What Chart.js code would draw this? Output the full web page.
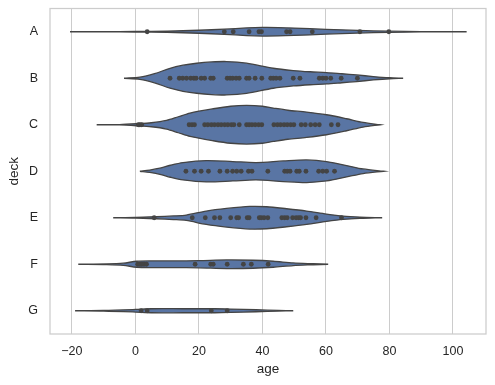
<!DOCTYPE html>
<html>
<head>
<meta charset="utf-8">
<script src="https://cdn.jsdelivr.net/npm/chart.js@4/dist/chart.umd.min.js"></script>
<style>
  html, body { margin: 0; padding: 0; background: #fff; }
  #wrap { width: 495px; height: 385px; }
</style>
</head>
<body>
<div id="wrap"><canvas id="chart"></canvas></div>
<script>
const decks = ["A", "B", "C", "D", "E", "F", "G"];
const xTicks = [-20, 0, 20, 40, 60, 80, 100];

// violin outlines: ages and half widths (in category units)
const ageA = [-20.6, -10, 0, 10, 20, 28, 35, 40, 45, 50, 60, 70, 80, 90, 104.3];
const widthA = [0, 0.002, 0.006, 0.013, 0.032, 0.056, 0.082, 0.092, 0.09, 0.08, 0.052, 0.028, 0.013, 0.004, 0];
const ageB = [-3.6, 1.4, 6, 10.9, 15, 19.3, 24, 28.7, 35, 43.4, 49.7, 55, 60.2, 65, 69.7, 74.9, 80, 84.3];
const widthB = [0, 0.022, 0.097, 0.215, 0.28, 0.323, 0.35, 0.359, 0.323, 0.215, 0.166, 0.14, 0.123, 0.097, 0.071, 0.037, 0.011, 0];
const ageC = [-12.2, -5, 0.5, 5, 9.8, 13.5, 17.2, 24.5, 30, 35, 40, 43.4, 48, 53.9, 60.2, 66.5, 71.7, 77];
const widthC = [0, 0.004, 0.022, 0.043, 0.092, 0.172, 0.252, 0.344, 0.398, 0.415, 0.398, 0.359, 0.312, 0.273, 0.215, 0.129, 0.049, 0];
const ageD = [1.4, 4.5, 7.7, 11, 15, 22.3, 30.7, 38, 46.6, 53.9, 60.2, 66.5, 71.7, 78.1];
const widthD = [0, 0.026, 0.065, 0.129, 0.187, 0.23, 0.209, 0.187, 0.222, 0.243, 0.209, 0.123, 0.049, 0];
const ageE = [-7, 0, 6.6, 12, 16, 22.3, 28.7, 36, 41.3, 47.6, 53.9, 60.2, 65.4, 70.7, 77.7];
const widthE = [0, 0.006, 0.022, 0.039, 0.058, 0.144, 0.2, 0.243, 0.237, 0.194, 0.144, 0.08, 0.037, 0.015, 0];
const ageF = [-18, -9, -3.8, 0.4, 6, 12, 20, 28.7, 37.1, 43.4, 49.7, 56, 60.7];
const widthF = [0, 0.006, 0.022, 0.065, 0.071, 0.071, 0.077, 0.092, 0.086, 0.065, 0.028, 0.011, 0];
const ageG = [-19, -10, 0, 5, 15, 25, 30, 38, 45, 49.7];
const widthG = [0, 0.006, 0.028, 0.043, 0.043, 0.043, 0.037, 0.022, 0.006, 0];

// individual observations
const pointsA = [3.7, 28, 30.8, 35.8, 38.9, 39.7, 47.6, 48.7, 55.7, 70.7, 79.8];
const pointsB = [10.9, 13.8, 14.9, 16.1, 17.4, 18.4, 19.1, 20.7, 21.8, 23.7, 24.5, 28.9, 29.8, 30.6, 31.7, 32.7,
  35, 35.8, 37.7, 39.8, 42.6, 43.4, 44.3, 45.5, 49.7, 51.8, 57.9, 59, 60, 61.5, 64.8, 69.9];
const pointsC = [0.9, 1.4, 2, 16.9, 17.8, 18.6, 21.8, 22.8, 23.9, 24.9, 26, 27, 28.1, 29.1, 30.2, 31, 32.7,
  35, 35.8, 36.7, 37.7, 38.8, 39.8, 43.6, 44.7, 45.7, 46.8, 47.8, 48.9, 49.9, 52.2, 53.5, 55.2, 56.6, 57.9, 61.7, 63.8];
const pointsD = [15.9, 18.6, 20.7, 23, 26.6, 28.9, 30.6, 31.9, 33.3, 35.6, 36.7, 41.7, 47, 47.8, 48.7, 50.8,
  51.6, 53.7, 57.7, 59, 60.2, 62.7];
const pointsE = [5.9, 17.9, 22, 24.9, 26.6, 30, 31.9, 32.5, 35.2, 35.8, 39, 39.6, 40.5, 41.7, 46.1, 47, 47.8,
  49.5, 50.6, 51.4, 52, 53.7, 56.9, 64.9];
const pointsF = [0.7, 1.4, 2, 2.7, 3.5, 18.8, 23.7, 24.5, 28.9, 34, 36.5, 41.8];
const pointsG = [1.8, 3.7, 23.9, 28.9];

const ages = [ageA, ageB, ageC, ageD, ageE, ageF, ageG];
const widths = [widthA, widthB, widthC, widthD, widthE, widthF, widthG];
const points = [pointsA, pointsB, pointsC, pointsD, pointsE, pointsF, pointsG];

const textColor = "#262626";
const gridColor = "#cccccc";
const fontFamily = "'Liberation Sans', Arial, sans-serif";

const datasets = [];
decks.forEach((d, i) => {
    const upper = ages[i].map((a, k) => ({ x: a, y: i - widths[i][k] }));
    const lower = ages[i].map((a, k) => ({ x: a, y: i + widths[i][k] })).reverse();
    datasets.push({
        type: "scatter",
        label: "violin " + d,
        data: upper.concat(lower),
        showLine: true,
        fill: "shape",
        tension: 0.3,
        backgroundColor: "#5975a4",
        borderColor: "#444444",
        borderWidth: 1.3,
        pointRadius: 0,
        order: 2
    });
    datasets.push({
        type: "scatter",
        label: "points " + d,
        data: points[i].map(v => ({ x: v, y: i })),
        pointRadius: 2.4,
        pointBackgroundColor: "#444444",
        pointBorderWidth: 0,
        order: 1
    });
});

const framePlugin = {
    id: "frame",
    beforeDatasetsDraw(chart) {
        const { ctx, chartArea: a } = chart;
        ctx.save();
        ctx.strokeStyle = gridColor;
        ctx.lineWidth = 1.25;
        ctx.strokeRect(a.left, a.top, a.right - a.left, a.bottom - a.top);
        ctx.restore();
    }
};

new Chart(document.getElementById("chart"), {
    type: "scatter",
    data: { datasets },
    options: {
        responsive: true,
        maintainAspectRatio: false,
        animation: false,
        layout: { padding: { top: 8.5, right: 9, left: 0, bottom: 0 } },
        plugins: { legend: { display: false }, tooltip: { enabled: false } },
        scales: {
            x: {
                type: "linear",
                min: -26.9,
                max: 110.4,
                afterBuildTicks: s => { s.ticks = xTicks.map(v => ({ value: v })); },
                afterFit: s => { s.height = 51; s.paddingLeft = 0; s.paddingRight = 0; },
                grid: { color: gridColor, lineWidth: 1, drawTicks: false },
                border: { display: false },
                ticks: {
                    color: textColor,
                    padding: 10,
                    font: { family: fontFamily, size: 12.5 },
                    callback: v => (v < 0 ? "\u2212" + Math.abs(v) : String(v))
                },
                title: {
                    display: true,
                    text: "age",
                    color: textColor,
                    padding: { top: 3, bottom: 8 },
                    font: { family: fontFamily, size: 13.5 }
                }
            },
            y: {
                type: "linear",
                min: -0.5,
                max: 6.5,
                reverse: true,
                afterBuildTicks: s => { s.ticks = decks.map((d, i) => ({ value: i })); },
                afterFit: s => { s.width = 50; s.paddingTop = 0; s.paddingBottom = 0; },
                grid: { display: false },
                border: { display: false },
                ticks: {
                    color: textColor,
                    padding: 4,
                    font: { family: fontFamily, size: 12.5 },
                    callback: v => decks[v]
                },
                title: {
                    display: true,
                    text: "deck",
                    color: textColor,
                    padding: { top: 6, bottom: 6 },
                    font: { family: fontFamily, size: 13.5 }
                }
            }
        }
    },
    plugins: [framePlugin]
});
</script>
</body>
</html>
